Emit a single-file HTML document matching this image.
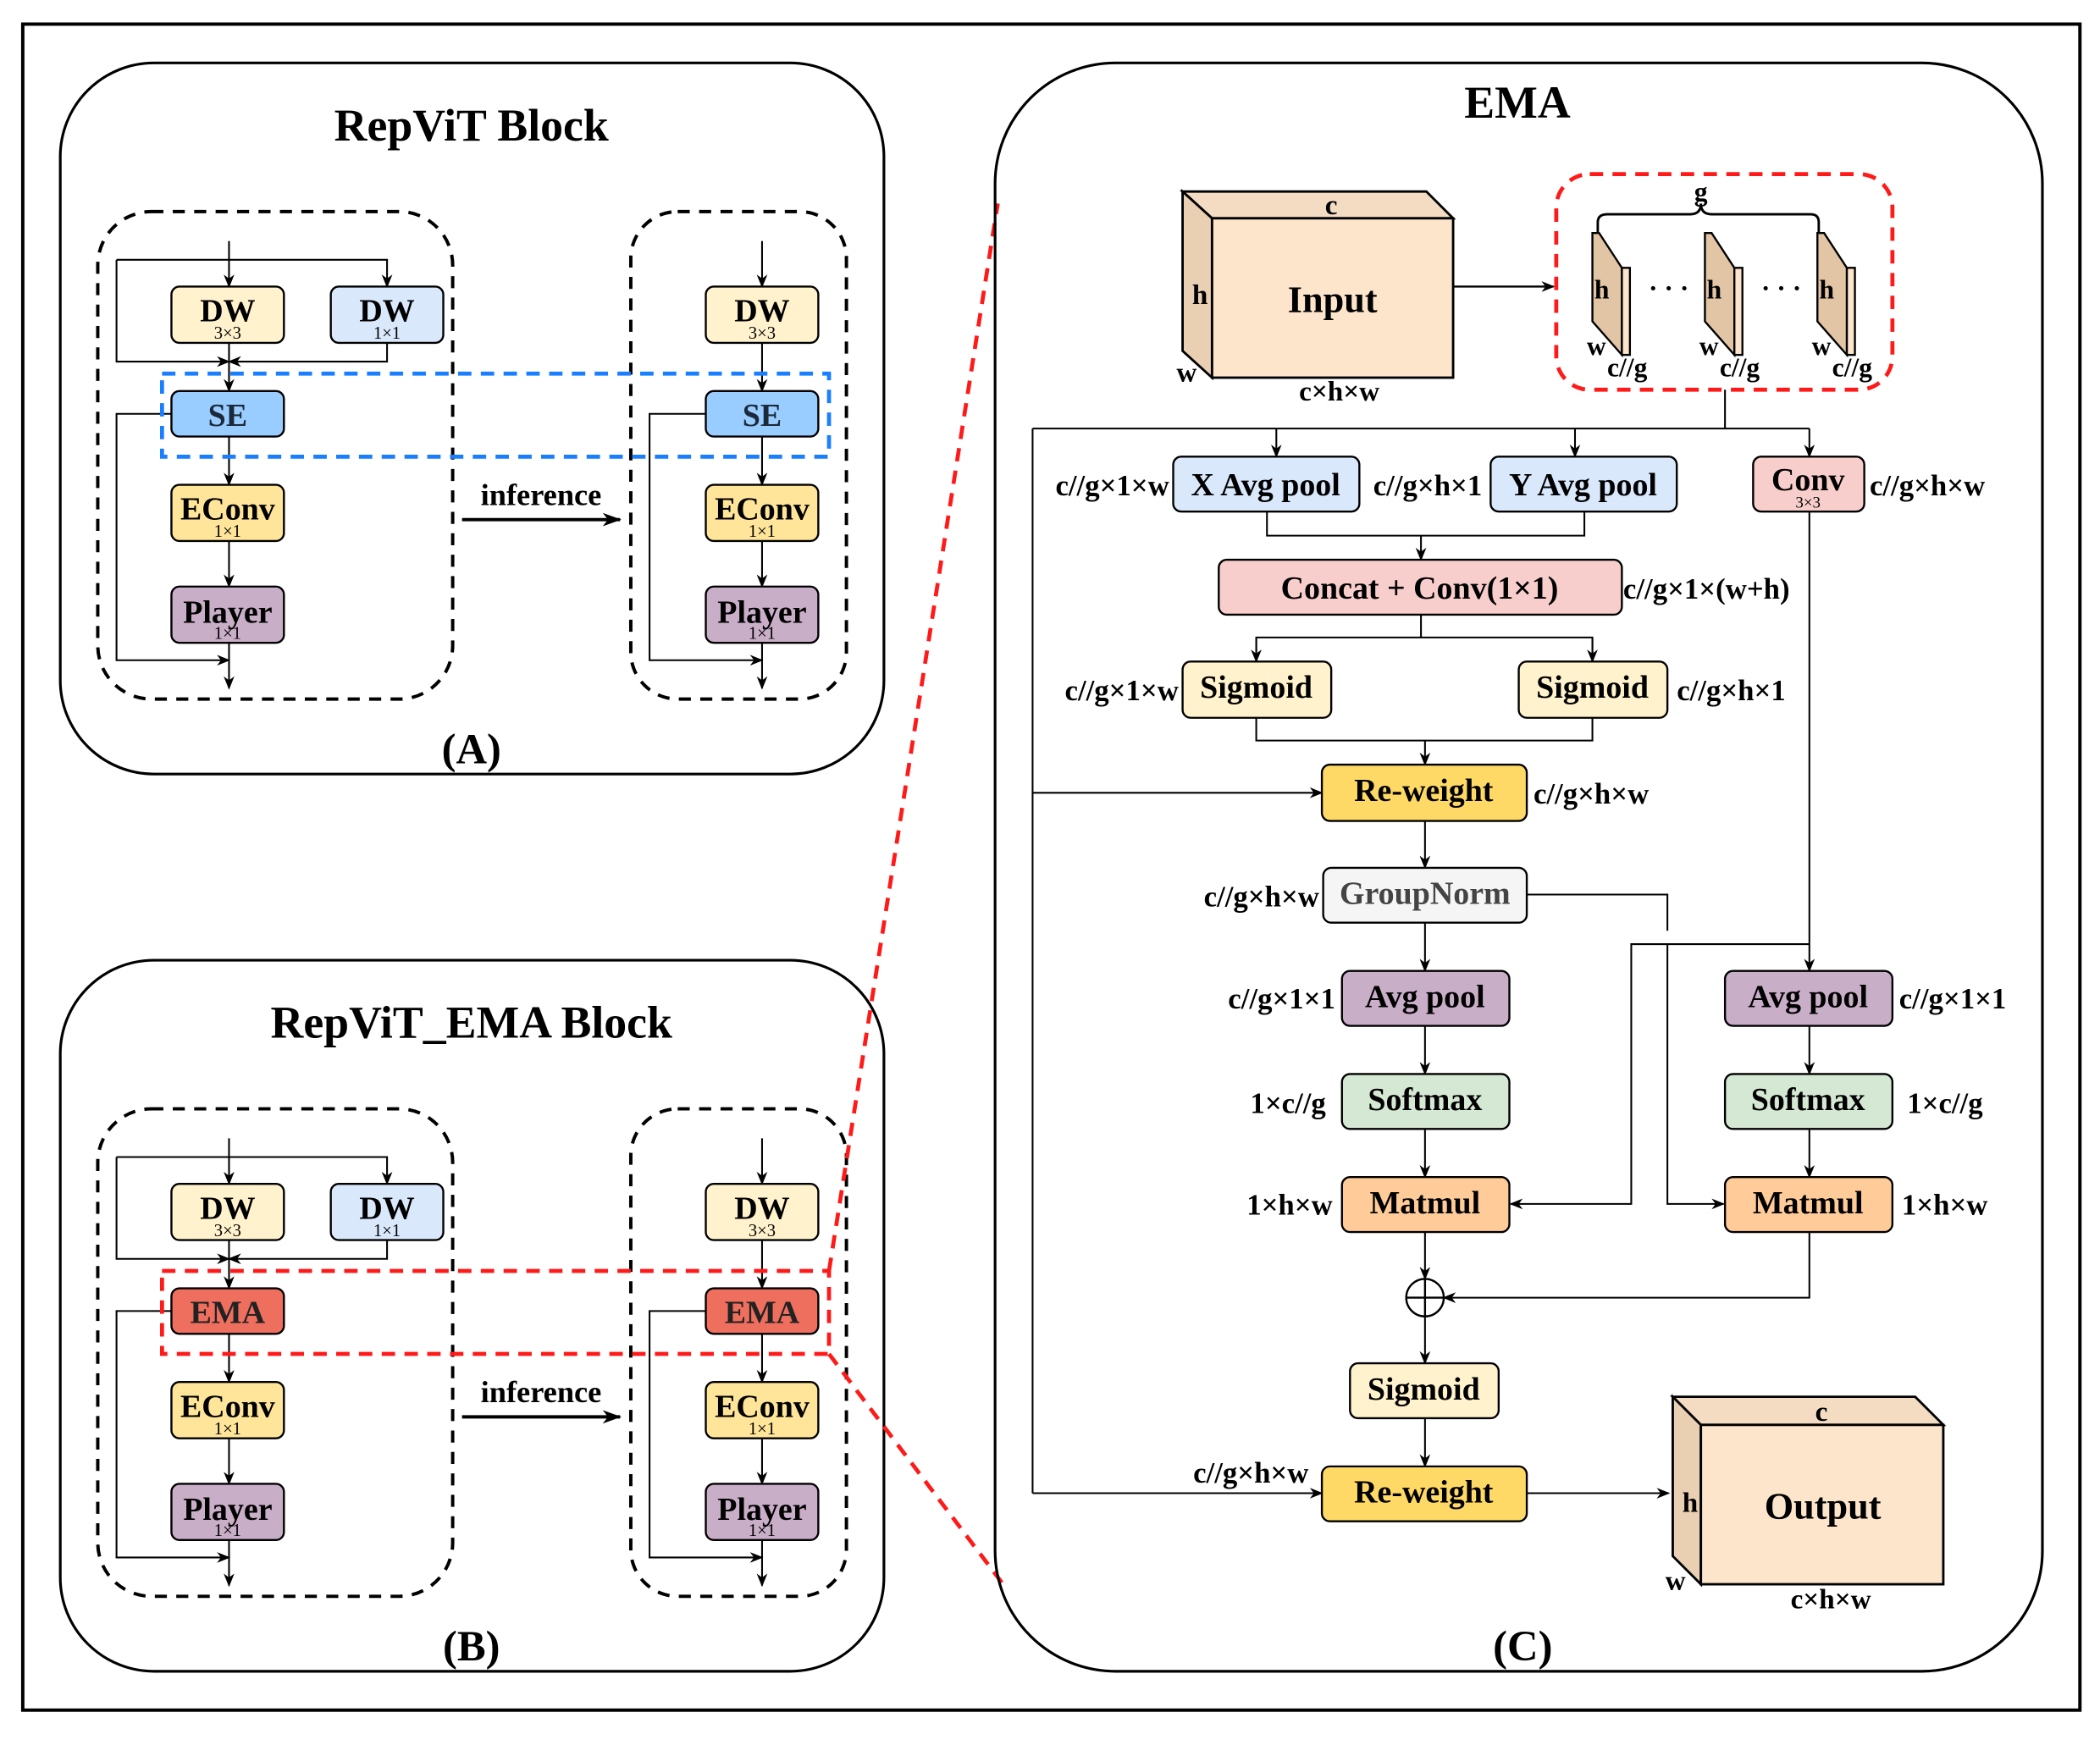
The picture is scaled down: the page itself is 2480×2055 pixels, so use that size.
<!DOCTYPE html>
<html><head><meta charset="utf-8"><style>html,body{margin:0;padding:0;background:#fff}svg{display:block}</style></head><body>
<svg width="2480" height="2055" viewBox="0 0 1568 1299.3" preserveAspectRatio="none" xmlns="http://www.w3.org/2000/svg" font-family="Liberation Serif, serif" font-weight="bold">
<defs>
<marker id="a" markerWidth="10" markerHeight="8" refX="9" refY="4" orient="auto" markerUnits="userSpaceOnUse"><path d="M0,0 L10,4 L0,8 L3,4 z" fill="#000"/></marker>
<marker id="b" markerWidth="14" markerHeight="10" refX="13" refY="5" orient="auto" markerUnits="userSpaceOnUse"><path d="M0,0 L14,5 L0,10 L4,5 z" fill="#000"/></marker>
</defs>
<rect x="17" y="18" width="1536" height="1259" fill="none" stroke="#000" stroke-width="2.5"/>

<g id="pA">
<rect x="45" y="47" width="615" height="531" rx="70" fill="none" stroke="#000" stroke-width="2"/>
<rect x="73" y="158" width="265" height="364" rx="40" fill="none" stroke="#000" stroke-width="2.5" stroke-dasharray="9,7"/>
<rect x="471" y="158" width="161" height="364" rx="35" fill="none" stroke="#000" stroke-width="2.5" stroke-dasharray="9,7"/>
<g stroke="#000" stroke-width="1.3" fill="none">
<path d="M171,180 V214" marker-end="url(#a)"/>
<path d="M87,194 H289 V214" marker-end="url(#a)"/>
<path d="M87,194 V270 H171" marker-end="url(#a)"/>
<path d="M289,256 V270 H171" marker-end="url(#a)"/>
<path d="M171,256 V292" marker-end="url(#a)"/>
<path d="M171,326 V362" marker-end="url(#a)"/>
<path d="M171,404 V438" marker-end="url(#a)"/>
<path d="M171,480 V514" marker-end="url(#a)"/>
<path d="M128,309 H87 V493 H171" marker-end="url(#a)"/>
<path d="M569,180 V214" marker-end="url(#a)"/>
<path d="M569,256 V292" marker-end="url(#a)"/>
<path d="M569,326 V362" marker-end="url(#a)"/>
<path d="M569,404 V438" marker-end="url(#a)"/>
<path d="M569,480 V514" marker-end="url(#a)"/>
<path d="M527,309 H485 V493 H569" marker-end="url(#a)"/>
</g>
<path d="M345,388 H463" stroke="#000" stroke-width="2.5" marker-end="url(#b)"/>
<text x="404" y="377" font-size="23" text-anchor="middle">inference</text>
<g stroke="#000" stroke-width="1.5">
<rect x="128" y="214" width="84" height="42" rx="6" fill="#fff2cc"/>
<rect x="247" y="214" width="84" height="42" rx="6" fill="#dae8fc"/>
<rect x="128" y="362" width="84" height="42" rx="6" fill="#ffe599"/>
<rect x="128" y="438" width="84" height="42" rx="6" fill="#c9aec8"/>
<rect x="527" y="214" width="84" height="42" rx="6" fill="#fff2cc"/>
<rect x="527" y="362" width="84" height="42" rx="6" fill="#ffe599"/>
<rect x="527" y="438" width="84" height="42" rx="6" fill="#c9aec8"/>
</g>
<g font-size="24" text-anchor="middle">
<text x="170" y="240">DW</text><text x="289" y="240">DW</text>
<text x="170" y="388">EConv</text><text x="170" y="465">Player</text>
<text x="569" y="240">DW</text><text x="569" y="388">EConv</text><text x="569" y="465">Player</text>
</g>
<g font-size="13" font-weight="normal" text-anchor="middle">
<text x="170" y="253">3×3</text><text x="289" y="253">1×1</text>
<text x="170" y="401">1×1</text><text x="170" y="477">1×1</text>
<text x="569" y="253">3×3</text><text x="569" y="401">1×1</text><text x="569" y="477">1×1</text>
</g>
</g>
<text x="352" y="105" font-size="34" text-anchor="middle">RepViT Block</text>
<text x="352" y="570" font-size="32" text-anchor="middle">(A)</text>
<g stroke="#000" stroke-width="1.5">
<rect x="128" y="292" width="84" height="34" rx="6" fill="#99ccff"/>
<rect x="527" y="292" width="84" height="34" rx="6" fill="#99ccff"/>
</g>
<text x="170" y="318" font-size="24" text-anchor="middle" fill="#1a2a3a">SE</text>
<text x="569" y="318" font-size="24" text-anchor="middle" fill="#1a2a3a">SE</text>
<rect x="121" y="279" width="498" height="62" fill="none" stroke="#1a7fff" stroke-width="3" stroke-dasharray="10,7"/>

<use href="#pA" transform="translate(0,670)"/>
<text x="352" y="775" font-size="34" text-anchor="middle">RepViT_EMA Block</text>
<text x="352" y="1240" font-size="32" text-anchor="middle">(B)</text>
<g stroke="#000" stroke-width="1.5">
<rect x="128" y="962" width="84" height="34" rx="6" fill="#ef6f5f"/>
<rect x="527" y="962" width="84" height="34" rx="6" fill="#ef6f5f"/>
</g>
<text x="170" y="988" font-size="24" text-anchor="middle" fill="#222">EMA</text>
<text x="569" y="988" font-size="24" text-anchor="middle" fill="#222">EMA</text>
<rect x="121" y="949" width="498" height="62" fill="none" stroke="#ff1a1a" stroke-width="3" stroke-dasharray="10,7"/>
<path d="M619,949 L745,152 M619,1011 L752,1187" stroke="#ff1a1a" stroke-width="3" stroke-dasharray="10,7" fill="none"/>

<rect x="743" y="47" width="782" height="1201" rx="90" fill="none" stroke="#000" stroke-width="2"/>
<text x="1133" y="88" font-size="34" text-anchor="middle">EMA</text>
<text x="1137" y="1240" font-size="32" text-anchor="middle">(C)</text>

<g stroke="#000" stroke-width="1.8">
<polygon points="883,143 1065,143 1085,163 905,163" fill="#f3dcc2"/>
<polygon points="883,143 905,163 905,282 883,262" fill="#ead0b3"/>
<rect x="905" y="163" width="180" height="119" fill="#fde5cc"/>
<polygon points="1249,1043 1430,1043 1451,1064 1270,1064" fill="#f3dcc2"/>
<polygon points="1249,1043 1270,1064 1270,1183 1249,1162" fill="#ead0b3"/>
<rect x="1270" y="1064" width="181" height="119" fill="#fde5cc"/>
</g>
<g font-size="21" text-anchor="middle">
<text x="994" y="160">c</text><text x="896" y="227">h</text><text x="886" y="285">w</text><text x="1000" y="299">c×h×w</text>
<text x="1360" y="1061">c</text><text x="1262" y="1129">h</text><text x="1251" y="1187">w</text><text x="1367" y="1201">c×h×w</text>
</g>
<text x="995" y="233" font-size="28" text-anchor="middle">Input</text>
<text x="1361" y="1134" font-size="28" text-anchor="middle">Output</text>
<path d="M1085,214 H1160" stroke="#000" stroke-width="1.5" marker-end="url(#a)"/>
<rect x="1162" y="130" width="251" height="161" rx="25" fill="none" stroke="#ff1a1a" stroke-width="3" stroke-dasharray="10,7"/>
<g stroke="#000" stroke-width="1.5">
<g id="sl">
<polygon points="1189,174 1194,174 1211,200 1211,265 1189,240" fill="#e2c5a5"/>
<rect x="1211" y="200" width="6" height="65" fill="#fde5cc"/>
</g>
<use href="#sl" transform="translate(84,0)"/>
<use href="#sl" transform="translate(168,0)"/>
</g>
<path d="M1193,174 V166 Q1193,160 1200,160 H1262 Q1270,160 1270,152 Q1270,160 1278,160 H1352 Q1358,160 1358,166 V174" stroke="#000" stroke-width="1.8" fill="none"/>
<g font-size="20" text-anchor="middle">
<text x="1270" y="150">g</text>
<text x="1196" y="223">h</text><text x="1280" y="223">h</text><text x="1364" y="223">h</text>
<text x="1192" y="265">w</text><text x="1276" y="265">w</text><text x="1360" y="265">w</text>
<text x="1215" y="281">c//g</text><text x="1299" y="281">c//g</text><text x="1383" y="281">c//g</text>
<text x="1246" y="222">·  ·  ·</text><text x="1330" y="222">·  ·  ·</text>
</g>

<g stroke="#000" stroke-width="1.3" fill="none">
<path d="M1288,291 V320 M771,320 H1351 M771,320 V1115"/>
<path d="M953,320 V341" marker-end="url(#a)"/>
<path d="M1176,320 V341" marker-end="url(#a)"/>
<path d="M1351,320 V341" marker-end="url(#a)"/>
<path d="M946,382 V400 H1183 V382"/>
<path d="M1061,400 V418" marker-end="url(#a)"/>
<path d="M1061,459 V476 M938,494 V476 H1189 V494"/>
<path d="M938,476 V494" marker-end="url(#a)"/>
<path d="M1189,476 V494" marker-end="url(#a)"/>
<path d="M938,536 V553 H1189 V536"/>
<path d="M1064,553 V571" marker-end="url(#a)"/>
<path d="M771,592 H987" marker-end="url(#a)"/>
<path d="M1064,613 V648" marker-end="url(#a)"/>
<path d="M1064,689 V725" marker-end="url(#a)"/>
<path d="M1140,668 H1245 V695 M1245,705 V899 H1287" marker-end="url(#a)"/>
<path d="M1351,382 V725" marker-end="url(#a)"/>
<path d="M1351,705 H1218 V899 H1128" marker-end="url(#a)"/>
<path d="M1064,766 V802" marker-end="url(#a)"/>
<path d="M1351,766 V802" marker-end="url(#a)"/>
<path d="M1064,843 V879" marker-end="url(#a)"/>
<path d="M1351,843 V879" marker-end="url(#a)"/>
<path d="M1064,920 V955" marker-end="url(#a)"/>
<path d="M1351,920 V969 H1078" marker-end="url(#a)"/>
<path d="M1064,983 V1018" marker-end="url(#a)"/>
<path d="M1064,1059 V1095" marker-end="url(#a)"/>
<path d="M771,1115 H987" marker-end="url(#a)"/>
<path d="M1140,1115 H1246" marker-end="url(#a)"/>
</g>
<circle cx="1064" cy="969" r="14" fill="#fff" stroke="#000" stroke-width="1.5"/>
<path d="M1050,969 H1078 M1064,955 V983" stroke="#000" stroke-width="1.5"/>

<g stroke="#000" stroke-width="1.5">
<rect x="876" y="341" width="139" height="41" rx="6" fill="#dae8fc"/>
<rect x="1113" y="341" width="139" height="41" rx="6" fill="#dae8fc"/>
<rect x="1309" y="341" width="83" height="41" rx="6" fill="#f8cecc"/>
<rect x="910" y="418" width="301" height="41" rx="6" fill="#f8cecc"/>
<rect x="883" y="494" width="111" height="42" rx="6" fill="#fff2cc"/>
<rect x="1134" y="494" width="111" height="42" rx="6" fill="#fff2cc"/>
<rect x="987" y="571" width="153" height="42" rx="6" fill="#ffd966"/>
<rect x="988" y="648" width="152" height="41" rx="6" fill="#f5f5f5"/>
<rect x="1002" y="725" width="125" height="41" rx="6" fill="#c9aec8"/>
<rect x="1288" y="725" width="125" height="41" rx="6" fill="#c9aec8"/>
<rect x="1002" y="802" width="125" height="41" rx="6" fill="#d5e8d4"/>
<rect x="1288" y="802" width="125" height="41" rx="6" fill="#d5e8d4"/>
<rect x="1002" y="879" width="125" height="41" rx="6" fill="#ffcc99"/>
<rect x="1288" y="879" width="125" height="41" rx="6" fill="#ffcc99"/>
<rect x="1008" y="1018" width="111" height="41" rx="6" fill="#fff2cc"/>
<rect x="987" y="1095" width="153" height="41" rx="6" fill="#ffd966"/>
</g>
<g font-size="24" text-anchor="middle">
<text x="945" y="370">X Avg pool</text>
<text x="1182" y="370">Y Avg pool</text>
<text x="1350" y="366">Conv</text>
<text x="1060" y="447">Concat + Conv(1×1)</text>
<text x="938" y="521">Sigmoid</text>
<text x="1189" y="521">Sigmoid</text>
<text x="1063" y="598">Re-weight</text>
<text x="1064" y="675" fill="#444">GroupNorm</text>
<text x="1064" y="752">Avg pool</text>
<text x="1350" y="752">Avg pool</text>
<text x="1064" y="829">Softmax</text>
<text x="1350" y="829">Softmax</text>
<text x="1064" y="906">Matmul</text>
<text x="1350" y="906">Matmul</text>
<text x="1063" y="1045">Sigmoid</text>
<text x="1063" y="1122">Re-weight</text>
</g>
<text x="1350" y="379" font-size="12" font-weight="normal" text-anchor="middle">3×3</text>
<g font-size="22">
<text x="873" y="370" text-anchor="end">c//g×1×w</text>
<text x="1066" y="370" text-anchor="middle">c//g×h×1</text>
<text x="1396" y="370">c//g×h×w</text>
<text x="1212" y="447">c//g×1×(w+h)</text>
<text x="880" y="523" text-anchor="end">c//g×1×w</text>
<text x="1252" y="523">c//g×h×1</text>
<text x="1145" y="600">c//g×h×w</text>
<text x="985" y="677" text-anchor="end">c//g×h×w</text>
<text x="997" y="753" text-anchor="end">c//g×1×1</text>
<text x="1418" y="753">c//g×1×1</text>
<text x="990" y="831" text-anchor="end">1×c//g</text>
<text x="1424" y="831">1×c//g</text>
<text x="995" y="907" text-anchor="end">1×h×w</text>
<text x="1420" y="907">1×h×w</text>
<text x="934" y="1107" text-anchor="middle">c//g×h×w</text>
</g>
</svg>
</body></html>
